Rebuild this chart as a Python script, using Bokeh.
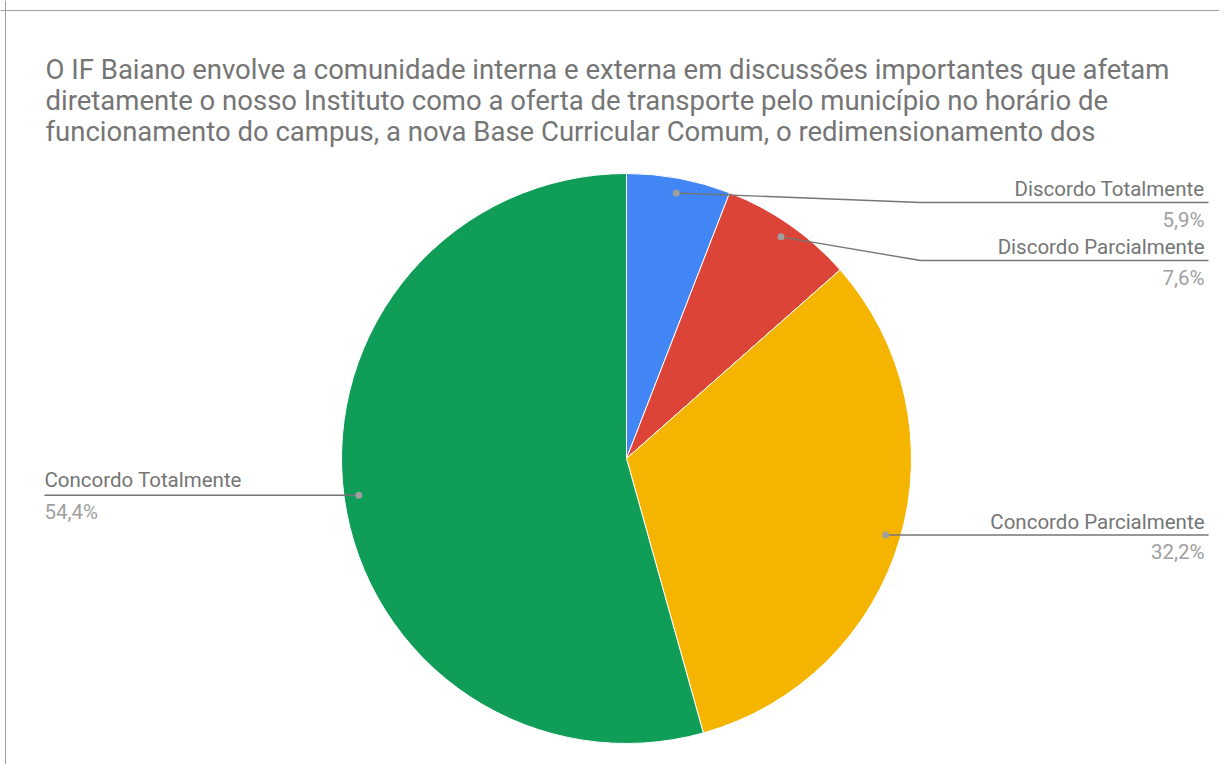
import math
from bokeh.plotting import figure
from bokeh.models import Range1d, Span
from bokeh.core.properties import value
from bokeh.embed import file_html
from bokeh.resources import INLINE

# ---- data ----
title_lines = [
    "O IF Baiano envolve a comunidade interna e externa em discussões importantes que afetam",
    "diretamente o nosso Instituto como a oferta de transporte pelo município no horário de",
    "funcionamento do campus, a nova Base Curricular Comum, o redimensionamento dos",
]
categories = ["Discordo Totalmente", "Discordo Parcialmente", "Concordo Parcialmente", "Concordo Totalmente"]
percents = [5.9, 7.6, 32.2, 54.4]
colors = ["#4285F4", "#DB4437", "#F4B400", "#0F9D58"]
pct_labels = ["5,9%", "7,6%", "32,2%", "54,4%"]

# ---- layout (picture coordinates, y down) ----
W, H = 1219, 764
def sy(y_img):
    return H - y_img
def sx(x_img):
    return x_img

cx, cy, R = sx(626), sy(458), 285
FONT = value("Roboto")

p = figure(width=W, height=H, output_backend="svg", toolbar_location=None,
           x_range=Range1d(0, W), y_range=Range1d(0, H), min_border=0)
p.axis.visible = False
p.xgrid.grid_line_color = None
p.ygrid.grid_line_color = None
p.outline_line_color = None
p.background_fill_color = "white"
p.border_fill_color = "white"

# chart border (left and top edges)
p.add_layout(Span(location=sx(5), dimension="height", line_color="#9e9e9e", line_width=1))
p.add_layout(Span(location=sy(10), dimension="width", line_color="#9e9e9e", line_width=1))

# title
for i, line in enumerate(title_lines):
    p.text(x=[sx(45)], y=[sy(69 + 31 * i)], text=[line], text_font=FONT,
           text_font_size="27.5px", text_color="#757575", text_baseline="alphabetic",
           text_align="left")

# wedges (clockwise from 12 o'clock)
total = sum(percents)
cum = 0.0
starts, ends, mids = [], [], []
for v in percents:
    a0 = cum / total
    cum += v
    a1 = cum / total
    starts.append(math.pi / 2 - a1 * 2 * math.pi)
    ends.append(math.pi / 2 - a0 * 2 * math.pi)
    mids.append((a0 + a1) / 2 * 2 * math.pi)

p.wedge(x=[cx] * 4, y=[cy] * 4, radius=R, start_angle=starts, end_angle=ends,
        fill_color=colors, line_color="white", line_width=1, direction="anticlock")

# leader lines and labels
r_dot = 0.948 * R
elbow_dx = 294
right_top_limit = sy(202)
gap = 58
prev = None
label_col = "#757575"
pct_col = "#a0a0a0"
line_col = "#757575"
LFS = "20.5px"
dots_x, dots_y = [], []
for i, th in enumerate(mids):
    dx = cx + r_dot * math.sin(th)
    dy = cy + r_dot * math.cos(th)
    dots_x.append(dx)
    dots_y.append(dy)
    if math.sin(th) >= 0:
        ly = min(dy, right_top_limit) if prev is None else min(dy, prev - gap)
        prev = ly
        ex = cx + elbow_dx
        xend = sx(1208)
        p.line([dx, ex, xend], [dy, ly, ly], line_color=line_col, line_width=1.4)
        p.text(x=[xend - 4], y=[ly + 13.5], text=[categories[i]], text_font=FONT, text_font_size=LFS,
               text_color=label_col, text_align="right", text_baseline="alphabetic")
        p.text(x=[xend - 4], y=[ly - 17], text=[pct_labels[i]], text_font=FONT, text_font_size=LFS,
               text_color=pct_col, text_align="right", text_baseline="alphabetic")
    else:
        ly = dy
        ex = cx - elbow_dx
        xend = sx(44)
        p.line([dx, ex, xend], [dy, ly, ly], line_color=line_col, line_width=1.4)
        p.text(x=[xend], y=[ly + 15.5], text=[categories[i]], text_font=FONT, text_font_size=LFS,
               text_color=label_col, text_align="left", text_baseline="alphabetic")
        p.text(x=[xend], y=[ly - 17], text=[pct_labels[i]], text_font=FONT, text_font_size=LFS,
               text_color=pct_col, text_align="left", text_baseline="alphabetic")

p.scatter(x=dots_x, y=dots_y, size=7, fill_color="#9e9e9e", line_color=None)

open("out.html", "w").write(file_html(p, INLINE))
